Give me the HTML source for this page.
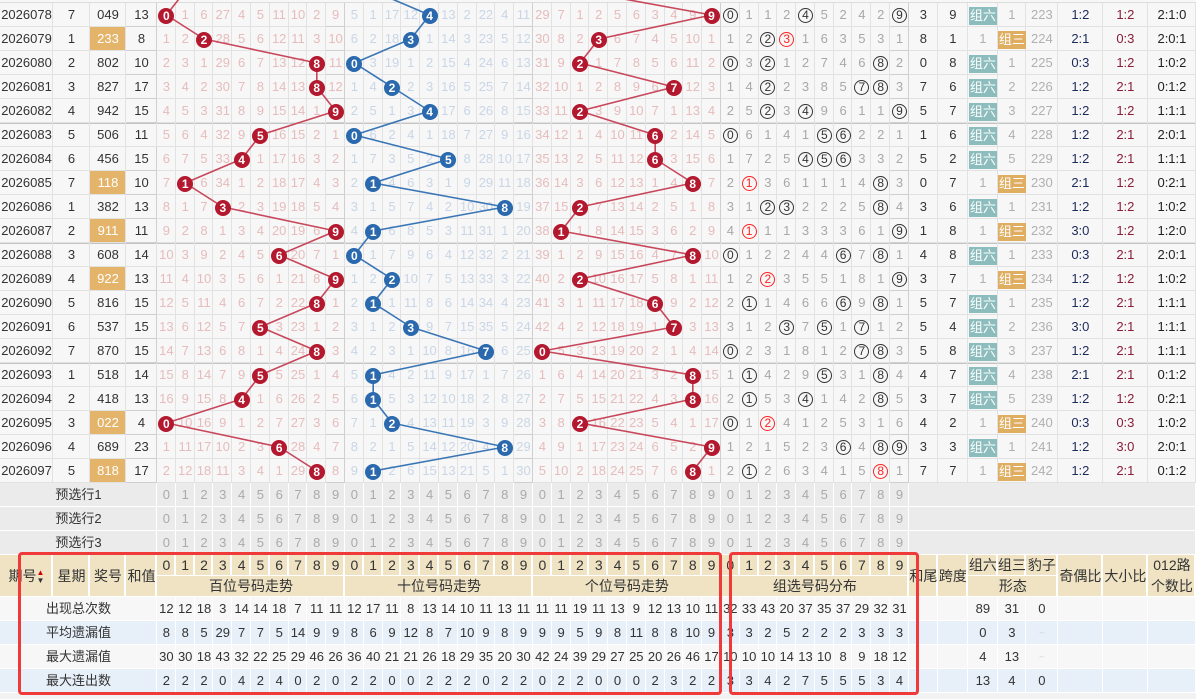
<!DOCTYPE html>
<html><head><meta charset="utf-8">
<style>
*{margin:0;padding:0;box-sizing:border-box}
body{width:1196px;height:699px;overflow:hidden;background:#f2f2f2;font-family:"Liberation Sans","Noto Sans CJK SC",sans-serif;position:relative}
#w{position:absolute;left:0;top:3px}
.top{position:absolute;left:0;top:0;width:1196px;height:3px;background:#f7f7f7;border-bottom:1px solid #ddd}
table{border-collapse:separate;border-spacing:0;table-layout:fixed;width:1196px}
td{height:24px;line-height:24px;padding:0;text-align:center;font-size:13px;white-space:nowrap;overflow:visible;color:#333;background:#f7f7f7;box-shadow:inset -1px -1px 0 #e2e2e2}
tbody.d td:nth-child(n+5):nth-child(-n+14){color:#e6bcbc}
tbody.d td:nth-child(n+15):nth-child(-n+24){color:#c9d6e6}
tbody.d td:nth-child(n+25):nth-child(-n+34){color:#e6bcbc}
tbody.d td:nth-child(n+35):nth-child(-n+44){color:#a8a8a8}
tbody.d td:nth-child(47),tbody.d td:nth-child(48),tbody.d td:nth-child(49){color:#b0b0b0}
tbody.d td:nth-child(50){color:#1c2b5c}
tbody.d td:nth-child(51){color:#8a1c3a}
tbody.d td:nth-child(52){color:#222}
tbody.d td:nth-child(4),tbody.d td:nth-child(14),tbody.d td:nth-child(24),tbody.d td:nth-child(34),tbody.d td:nth-child(44){box-shadow:inset -1px -1px 0 #cfcfcf}
tbody.d tr.g td{box-shadow:inset -1px -1px 0 #e2e2e2,inset 0 1px 0 #c4c4c4}
td.o{background:#e4b46a;color:#fff!important}
b{display:inline-block;width:16px;height:16px;border-radius:50%;background:#b3182e;color:#fff;font-size:12px;line-height:16px;font-weight:bold;position:relative;z-index:3;vertical-align:middle}
tbody.d td:nth-child(n+15):nth-child(-n+24) b{background:#2a69ad}
s{text-decoration:none;display:inline-block;width:15px;height:15px;border:1px solid #333;border-radius:50%;line-height:13px;color:#333;font-size:12px;vertical-align:middle}
s.r{border-color:#f22;color:#f22}
em{font-style:normal;display:inline-block;width:28px;height:18px;line-height:18px;color:#fff;background:#8cbcbc;vertical-align:middle}
em.t3{background:#e0ae60}
tbody.p td{background:#ebebeb;color:#aaa;box-shadow:inset -1px -1px 0 #fff}
tbody.p td.l{color:#333}
tbody.h td{background:#efe3c4;color:#333;height:21px;line-height:21px;font-size:14px;box-shadow:inset -2px -1px 0 #fff}
tbody.s td{color:#333}
tbody.s tr:nth-child(2n) td{background:#e7eff9}
tbody.s td{box-shadow:inset -1px -1px 0 #fff}
.box{position:absolute;border:3px solid #f03a3a;border-radius:4px;z-index:5}
svg{position:absolute;left:0;top:0;z-index:2}
</style></head><body>
<div class="top"></div>
<div id="w">
<table>
<colgroup><col style="width:53px"><col style="width:37px"><col style="width:36px"><col style="width:31px">
<col style="width:18.8px"><col style="width:18.8px"><col style="width:18.8px"><col style="width:18.8px"><col style="width:18.8px"><col style="width:18.8px"><col style="width:18.8px"><col style="width:18.8px"><col style="width:18.8px"><col style="width:18.8px">
<col style="width:18.8px"><col style="width:18.8px"><col style="width:18.8px"><col style="width:18.8px"><col style="width:18.8px"><col style="width:18.8px"><col style="width:18.8px"><col style="width:18.8px"><col style="width:18.8px"><col style="width:18.8px">
<col style="width:18.8px"><col style="width:18.8px"><col style="width:18.8px"><col style="width:18.8px"><col style="width:18.8px"><col style="width:18.8px"><col style="width:18.8px"><col style="width:18.8px"><col style="width:18.8px"><col style="width:18.8px">
<col style="width:18.8px"><col style="width:18.8px"><col style="width:18.8px"><col style="width:18.8px"><col style="width:18.8px"><col style="width:18.8px"><col style="width:18.8px"><col style="width:18.8px"><col style="width:18.8px"><col style="width:18.8px">
<col style="width:29px"><col style="width:30px"><col style="width:30px"><col style="width:28px"><col style="width:32px"><col style="width:45px"><col style="width:45px"><col style="width:48px"></colgroup>
<tbody class="d">
<tr><td>2026078<td>7<td>049<td>13<td><b>0</b><td>1<td>6<td>27<td>4<td>5<td>11<td>10<td>2<td>9<td>5<td>1<td>17<td>12<td><b>4</b><td>13<td>2<td>22<td>4<td>11<td>29<td>7<td>1<td>2<td>5<td>6<td>3<td>4<td>9<td><b>9</b><td><s>0</s><td>1<td>1<td>2<td><s>4</s><td>5<td>2<td>4<td>2<td><s>9</s><td>3<td>9<td><em>组六</em><td>1<td>223<td>1:2<td>1:2<td>2:1:0</tr>
<tr><td>2026079<td>1<td class="o">233<td>8<td>1<td>2<td><b>2</b><td>28<td>5<td>6<td>12<td>11<td>3<td>10<td>6<td>2<td>18<td><b>3</b><td>1<td>14<td>3<td>23<td>5<td>12<td>30<td>8<td>2<td><b>3</b><td>6<td>7<td>4<td>5<td>10<td>1<td>1<td>2<td><s>2</s><td><s class="r">3</s><td>1<td>6<td>3<td>5<td>3<td>1<td>8<td>1<td>1<td><em class="t3">组三</em><td>224<td>2:1<td>0:3<td>2:0:1</tr>
<tr><td>2026080<td>2<td>802<td>10<td>2<td>3<td>1<td>29<td>6<td>7<td>13<td>12<td><b>8</b><td>11<td><b>0</b><td>3<td>19<td>1<td>2<td>15<td>4<td>24<td>6<td>13<td>31<td>9<td><b>2</b><td>1<td>7<td>8<td>5<td>6<td>11<td>2<td><s>0</s><td>3<td><s>2</s><td>1<td>2<td>7<td>4<td>6<td><s>8</s><td>2<td>0<td>8<td><em>组六</em><td>1<td>225<td>0:3<td>1:2<td>1:0:2</tr>
<tr><td>2026081<td>3<td>827<td>17<td>3<td>4<td>2<td>30<td>7<td>8<td>14<td>13<td><b>8</b><td>12<td>1<td>4<td><b>2</b><td>2<td>3<td>16<td>5<td>25<td>7<td>14<td>32<td>10<td>1<td>2<td>8<td>9<td>6<td><b>7</b><td>12<td>3<td>1<td>4<td><s>2</s><td>2<td>3<td>8<td>5<td><s>7</s><td><s>8</s><td>3<td>7<td>6<td><em>组六</em><td>2<td>226<td>1:2<td>2:1<td>0:1:2</tr>
<tr><td>2026082<td>4<td>942<td>15<td>4<td>5<td>3<td>31<td>8<td>9<td>15<td>14<td>1<td><b>9</b><td>2<td>5<td>1<td>3<td><b>4</b><td>17<td>6<td>26<td>8<td>15<td>33<td>11<td><b>2</b><td>3<td>9<td>10<td>7<td>1<td>13<td>4<td>2<td>5<td><s>2</s><td>3<td><s>4</s><td>9<td>6<td>1<td>1<td><s>9</s><td>5<td>7<td><em>组六</em><td>3<td>227<td>1:2<td>1:2<td>1:1:1</tr>
<tr class="g"><td>2026083<td>5<td>506<td>11<td>5<td>6<td>4<td>32<td>9<td><b>5</b><td>16<td>15<td>2<td>1<td><b>0</b><td>6<td>2<td>4<td>1<td>18<td>7<td>27<td>9<td>16<td>34<td>12<td>1<td>4<td>10<td>11<td><b>6</b><td>2<td>14<td>5<td><s>0</s><td>6<td>1<td>4<td>1<td><s>5</s><td><s>6</s><td>2<td>2<td>1<td>1<td>6<td><em>组六</em><td>4<td>228<td>1:2<td>2:1<td>2:0:1</tr>
<tr><td>2026084<td>6<td>456<td>15<td>6<td>7<td>5<td>33<td><b>4</b><td>1<td>17<td>16<td>3<td>2<td>1<td>7<td>3<td>5<td>2<td><b>5</b><td>8<td>28<td>10<td>17<td>35<td>13<td>2<td>5<td>11<td>12<td><b>6</b><td>3<td>15<td>6<td>1<td>7<td>2<td>5<td><s>4</s><td><s>5</s><td><s>6</s><td>3<td>3<td>2<td>5<td>2<td><em>组六</em><td>5<td>229<td>1:2<td>2:1<td>1:1:1</tr>
<tr><td>2026085<td>7<td class="o">118<td>10<td>7<td><b>1</b><td>6<td>34<td>1<td>2<td>18<td>17<td>4<td>3<td>2<td><b>1</b><td>4<td>6<td>3<td>1<td>9<td>29<td>11<td>18<td>36<td>14<td>3<td>6<td>12<td>13<td>1<td>4<td><b>8</b><td>7<td>2<td><s class="r">1</s><td>3<td>6<td>1<td>1<td>1<td>4<td><s>8</s><td>3<td>0<td>7<td>1<td><em class="t3">组三</em><td>230<td>2:1<td>1:2<td>0:2:1</tr>
<tr><td>2026086<td>1<td>382<td>13<td>8<td>1<td>7<td><b>3</b><td>2<td>3<td>19<td>18<td>5<td>4<td>3<td>1<td>5<td>7<td>4<td>2<td>10<td>30<td><b>8</b><td>19<td>37<td>15<td><b>2</b><td>7<td>13<td>14<td>2<td>5<td>1<td>8<td>3<td>1<td><s>2</s><td><s>3</s><td>2<td>2<td>2<td>5<td><s>8</s><td>4<td>3<td>6<td><em>组六</em><td>1<td>231<td>1:2<td>1:2<td>1:0:2</tr>
<tr><td>2026087<td>2<td class="o">911<td>11<td>9<td>2<td>8<td>1<td>3<td>4<td>20<td>19<td>6<td><b>9</b><td>4<td><b>1</b><td>6<td>8<td>5<td>3<td>11<td>31<td>1<td>20<td>38<td><b>1</b><td>1<td>8<td>14<td>15<td>3<td>6<td>2<td>9<td>4<td><s class="r">1</s><td>1<td>1<td>3<td>3<td>3<td>6<td>1<td><s>9</s><td>1<td>8<td>1<td><em class="t3">组三</em><td>232<td>3:0<td>1:2<td>1:2:0</tr>
<tr class="g"><td>2026088<td>3<td>608<td>14<td>10<td>3<td>9<td>2<td>4<td>5<td><b>6</b><td>20<td>7<td>1<td><b>0</b><td>1<td>7<td>9<td>6<td>4<td>12<td>32<td>2<td>21<td>39<td>1<td>2<td>9<td>15<td>16<td>4<td>7<td><b>8</b><td>10<td><s>0</s><td>1<td>2<td>2<td>4<td>4<td><s>6</s><td>7<td><s>8</s><td>1<td>4<td>8<td><em>组六</em><td>1<td>233<td>0:3<td>2:1<td>2:0:1</tr>
<tr><td>2026089<td>4<td class="o">922<td>13<td>11<td>4<td>10<td>3<td>5<td>6<td>1<td>21<td>8<td><b>9</b><td>1<td>2<td><b>2</b><td>10<td>7<td>5<td>13<td>33<td>3<td>22<td>40<td>2<td><b>2</b><td>10<td>16<td>17<td>5<td>8<td>1<td>11<td>1<td>2<td><s class="r">2</s><td>3<td>5<td>5<td>1<td>8<td>1<td><s>9</s><td>3<td>7<td>1<td><em class="t3">组三</em><td>234<td>1:2<td>1:2<td>1:0:2</tr>
<tr><td>2026090<td>5<td>816<td>15<td>12<td>5<td>11<td>4<td>6<td>7<td>2<td>22<td><b>8</b><td>1<td>2<td><b>1</b><td>1<td>11<td>8<td>6<td>14<td>34<td>4<td>23<td>41<td>3<td>1<td>11<td>17<td>18<td><b>6</b><td>9<td>2<td>12<td>2<td><s>1</s><td>1<td>4<td>6<td>6<td><s>6</s><td>9<td><s>8</s><td>1<td>5<td>7<td><em>组六</em><td>1<td>235<td>1:2<td>2:1<td>1:1:1</tr>
<tr><td>2026091<td>6<td>537<td>15<td>13<td>6<td>12<td>5<td>7<td><b>5</b><td>3<td>23<td>1<td>2<td>3<td>1<td>2<td><b>3</b><td>9<td>7<td>15<td>35<td>5<td>24<td>42<td>4<td>2<td>12<td>18<td>19<td>1<td><b>7</b><td>3<td>13<td>3<td>1<td>2<td><s>3</s><td>7<td><s>5</s><td>1<td><s>7</s><td>1<td>2<td>5<td>4<td><em>组六</em><td>2<td>236<td>3:0<td>2:1<td>1:1:1</tr>
<tr><td>2026092<td>7<td>870<td>15<td>14<td>7<td>13<td>6<td>8<td>1<td>4<td>24<td><b>8</b><td>3<td>4<td>2<td>3<td>1<td>10<td>8<td>16<td><b>7</b><td>6<td>25<td><b>0</b><td>5<td>3<td>13<td>19<td>20<td>2<td>1<td>4<td>14<td><s>0</s><td>2<td>3<td>1<td>8<td>1<td>2<td><s>7</s><td><s>8</s><td>3<td>5<td>8<td><em>组六</em><td>3<td>237<td>1:2<td>2:1<td>1:1:1</tr>
<tr class="g"><td>2026093<td>1<td>518<td>14<td>15<td>8<td>14<td>7<td>9<td><b>5</b><td>5<td>25<td>1<td>4<td>5<td><b>1</b><td>4<td>2<td>11<td>9<td>17<td>1<td>7<td>26<td>1<td>6<td>4<td>14<td>20<td>21<td>3<td>2<td><b>8</b><td>15<td>1<td><s>1</s><td>4<td>2<td>9<td><s>5</s><td>3<td>1<td><s>8</s><td>4<td>4<td>7<td><em>组六</em><td>4<td>238<td>2:1<td>2:1<td>0:1:2</tr>
<tr><td>2026094<td>2<td>418<td>13<td>16<td>9<td>15<td>8<td><b>4</b><td>1<td>6<td>26<td>2<td>5<td>6<td><b>1</b><td>5<td>3<td>12<td>10<td>18<td>2<td>8<td>27<td>2<td>7<td>5<td>15<td>21<td>22<td>4<td>3<td><b>8</b><td>16<td>2<td><s>1</s><td>5<td>3<td><s>4</s><td>1<td>4<td>2<td><s>8</s><td>5<td>3<td>7<td><em>组六</em><td>5<td>239<td>1:2<td>1:2<td>0:2:1</tr>
<tr><td>2026095<td>3<td class="o">022<td>4<td><b>0</b><td>10<td>16<td>9<td>1<td>2<td>7<td>27<td>3<td>6<td>7<td>1<td><b>2</b><td>4<td>13<td>11<td>19<td>3<td>9<td>28<td>3<td>8<td><b>2</b><td>16<td>22<td>23<td>5<td>4<td>1<td>17<td><s>0</s><td>1<td><s class="r">2</s><td>4<td>1<td>2<td>5<td>3<td>1<td>6<td>4<td>2<td>1<td><em class="t3">组三</em><td>240<td>0:3<td>0:3<td>1:0:2</tr>
<tr><td>2026096<td>4<td>689<td>23<td>1<td>11<td>17<td>10<td>2<td>3<td><b>6</b><td>28<td>4<td>7<td>8<td>2<td>1<td>5<td>14<td>12<td>20<td>4<td><b>8</b><td>29<td>4<td>9<td>1<td>17<td>23<td>24<td>6<td>5<td>2<td><b>9</b><td>1<td>2<td>1<td>5<td>2<td>3<td><s>6</s><td>4<td><s>8</s><td><s>9</s><td>3<td>3<td><em>组六</em><td>1<td>241<td>1:2<td>3:0<td>2:0:1</tr>
<tr><td>2026097<td>5<td class="o">818<td>17<td>2<td>12<td>18<td>11<td>3<td>4<td>1<td>29<td><b>8</b><td>8<td>9<td><b>1</b><td>2<td>6<td>15<td>13<td>21<td>5<td>1<td>30<td>5<td>10<td>2<td>18<td>24<td>25<td>7<td>6<td><b>8</b><td>1<td>2<td><s>1</s><td>2<td>6<td>3<td>4<td>1<td>5<td><s class="r">8</s><td>1<td>7<td>7<td>1<td><em class="t3">组三</em><td>242<td>1:2<td>2:1<td>0:1:2</tr>
</tbody>
<tbody class="p">
<tr><td colspan="4" class="l">预选行1<td>0<td>1<td>2<td>3<td>4<td>5<td>6<td>7<td>8<td>9<td>0<td>1<td>2<td>3<td>4<td>5<td>6<td>7<td>8<td>9<td>0<td>1<td>2<td>3<td>4<td>5<td>6<td>7<td>8<td>9<td>0<td>1<td>2<td>3<td>4<td>5<td>6<td>7<td>8<td>9<td colspan="8"></tr>
<tr><td colspan="4" class="l">预选行2<td>0<td>1<td>2<td>3<td>4<td>5<td>6<td>7<td>8<td>9<td>0<td>1<td>2<td>3<td>4<td>5<td>6<td>7<td>8<td>9<td>0<td>1<td>2<td>3<td>4<td>5<td>6<td>7<td>8<td>9<td>0<td>1<td>2<td>3<td>4<td>5<td>6<td>7<td>8<td>9<td colspan="8"></tr>
<tr><td colspan="4" class="l">预选行3<td>0<td>1<td>2<td>3<td>4<td>5<td>6<td>7<td>8<td>9<td>0<td>1<td>2<td>3<td>4<td>5<td>6<td>7<td>8<td>9<td>0<td>1<td>2<td>3<td>4<td>5<td>6<td>7<td>8<td>9<td>0<td>1<td>2<td>3<td>4<td>5<td>6<td>7<td>8<td>9<td colspan="8"></tr>
</tbody>
<tbody class="h">
<tr><td rowspan="2">期号<span style="font-size:8px;line-height:8px;display:inline-block;vertical-align:middle"><span style="color:#c00">▲</span><br>▼</span><td rowspan="2">星期<td rowspan="2">奖号<td rowspan="2">和值<td>0<td>1<td>2<td>3<td>4<td>5<td>6<td>7<td>8<td>9<td>0<td>1<td>2<td>3<td>4<td>5<td>6<td>7<td>8<td>9<td>0<td>1<td>2<td>3<td>4<td>5<td>6<td>7<td>8<td>9<td>0<td>1<td>2<td>3<td>4<td>5<td>6<td>7<td>8<td>9<td rowspan="2">和尾<td rowspan="2">跨度<td>组六<td>组三<td>豹子<td rowspan="2">奇偶比<td rowspan="2">大小比<td rowspan="2" style="line-height:21px">012路<br>个数比</tr>
<tr><td colspan="10">百位号码走势<td colspan="10">十位号码走势<td colspan="10">个位号码走势<td colspan="10">组选号码分布<td colspan="3">形态</tr>
</tbody>
<tbody class="s">
<tr><td colspan="4">出现总次数<td>12<td>12<td>18<td>3<td>14<td>14<td>18<td>7<td>11<td>11<td>12<td>17<td>11<td>8<td>13<td>14<td>10<td>11<td>13<td>11<td>11<td>11<td>19<td>11<td>13<td>9<td>12<td>13<td>10<td>11<td>32<td>33<td>43<td>20<td>37<td>35<td>37<td>29<td>32<td>31<td><td><td>89<td>31<td>0<td><td><td></tr>
<tr><td colspan="4">平均遗漏值<td>8<td>8<td>5<td>29<td>7<td>7<td>5<td>14<td>9<td>9<td>8<td>6<td>9<td>12<td>8<td>7<td>10<td>9<td>8<td>9<td>9<td>9<td>5<td>9<td>8<td>11<td>8<td>8<td>10<td>9<td>3<td>3<td>2<td>5<td>2<td>2<td>2<td>3<td>3<td>3<td><td><td>0<td>3<td style="color:#ccc;font-size:8px">--<td><td><td></tr>
<tr><td colspan="4">最大遗漏值<td>30<td>30<td>18<td>43<td>32<td>22<td>25<td>29<td>46<td>26<td>36<td>40<td>21<td>21<td>26<td>18<td>29<td>35<td>20<td>30<td>42<td>24<td>39<td>29<td>27<td>25<td>20<td>26<td>46<td>17<td>10<td>10<td>10<td>14<td>13<td>10<td>8<td>9<td>18<td>12<td><td><td>4<td>13<td style="color:#ccc;font-size:8px">--<td><td><td></tr>
<tr><td colspan="4">最大连出数<td>2<td>2<td>2<td>0<td>4<td>2<td>4<td>0<td>2<td>0<td>2<td>2<td>0<td>0<td>2<td>2<td>2<td>0<td>2<td>2<td>0<td>2<td>2<td>0<td>0<td>0<td>2<td>3<td>2<td>2<td>3<td>3<td>4<td>2<td>7<td>5<td>5<td>5<td>3<td>4<td><td><td>13<td>4<td>0<td><td><td></tr>
</tbody>
</table>
</div>
<svg width="1196" height="486" viewBox="0 0 1196 486">
<g fill="none" stroke-width="1.6" stroke-linejoin="round">
<polyline stroke="#c8475b" points="185.2,-9 166.4,15 204,39 316.8,63 316.8,87 335.6,111 260.4,135 241.6,159 185.2,183 222.8,207 335.6,231 279.2,255 335.6,279 316.8,303 260.4,327 316.8,351 260.4,375 241.6,399 166.4,423 279.2,447 316.8,471"/>
<polyline stroke="#3a76b6" points="373.2,-9 429.6,15 410.8,39 354.4,63 392,87 429.6,111 354.4,135 448.4,159 373.2,183 504.8,207 373.2,231 354.4,255 392,279 373.2,303 410.8,327 486,351 373.2,375 373.2,399 392,423 504.8,447 373.2,471"/>
<polyline stroke="#c8475b" points="580,-9 711.6,15 598.8,39 580,63 674,87 580,111 655.2,135 655.2,159 692.8,183 580,207 561.2,231 692.8,255 580,279 655.2,303 674,327 542.4,351 692.8,375 692.8,399 580,423 711.6,447 692.8,471"/>
</g></svg>
<div class="box" style="left:18px;top:552px;width:704px;height:143px"></div>
<div class="box" style="left:729px;top:552px;width:190px;height:143px"></div>
</body></html>
